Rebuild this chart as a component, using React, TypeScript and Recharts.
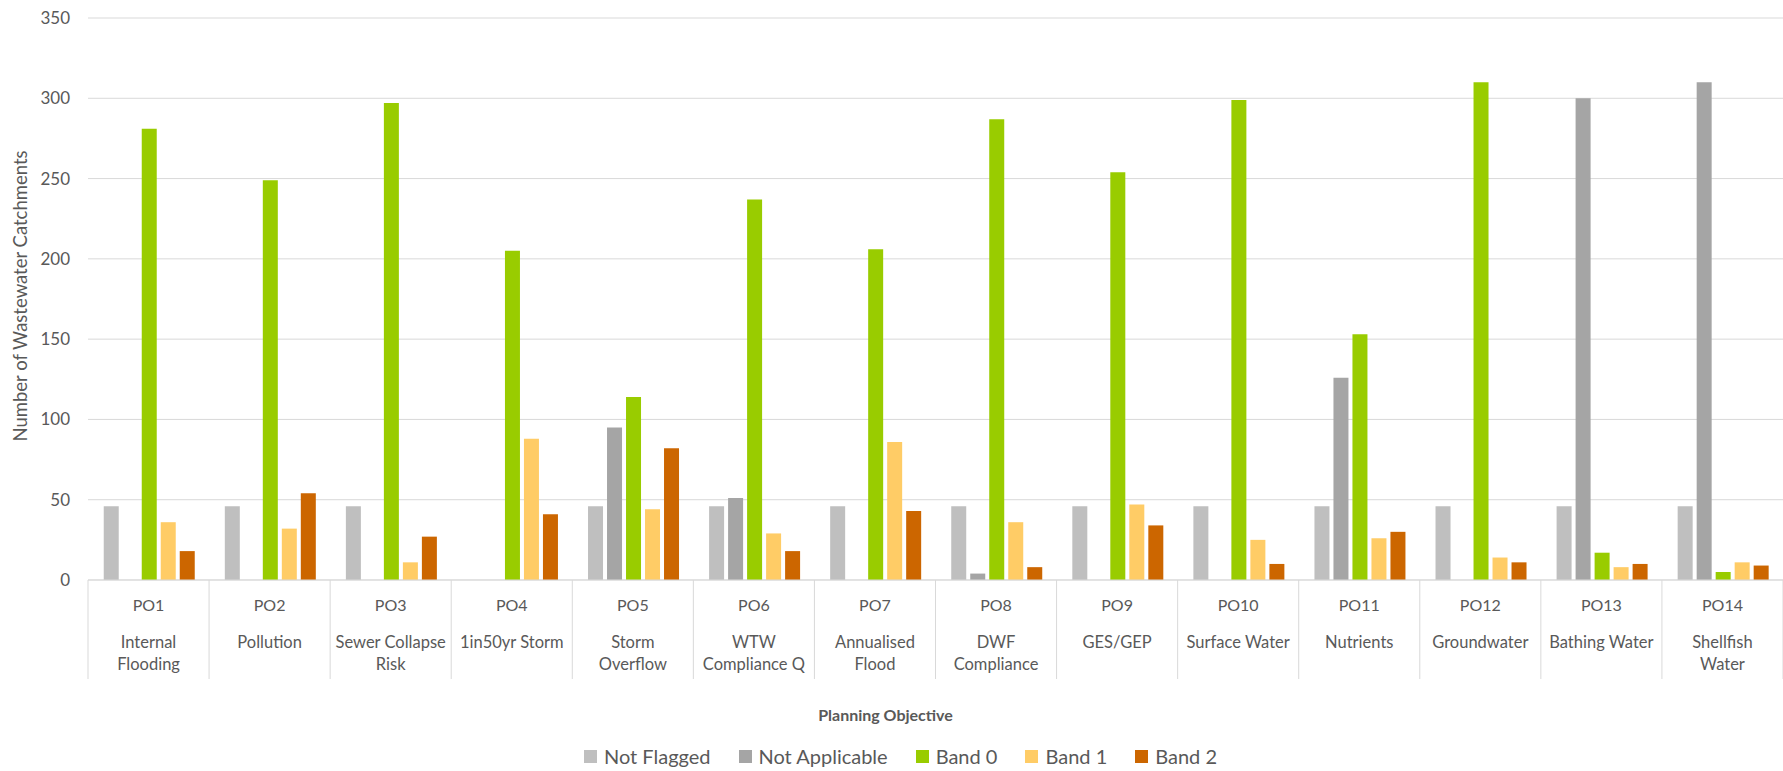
import { BarChart, Bar, XAxis, YAxis, CartesianGrid, Legend } from "recharts";

const codes = [
  "PO1", "PO2", "PO3", "PO4", "PO5", "PO6", "PO7",
  "PO8", "PO9", "PO10", "PO11", "PO12", "PO13", "PO14",
];
const names = [
  "Internal\nFlooding",
  "Pollution",
  "Sewer Collapse\nRisk",
  "1in50yr Storm",
  "Storm\nOverflow",
  "WTW\nCompliance Q",
  "Annualised\nFlood",
  "DWF\nCompliance",
  "GES/GEP",
  "Surface Water",
  "Nutrients",
  "Groundwater",
  "Bathing Water",
  "Shellfish\nWater",
];

const notFlagged = [46, 46, 46, 0, 46, 46, 46, 46, 46, 46, 46, 46, 46, 46];
const notApplicable = [0, 0, 0, 0, 95, 51, 0, 4, 0, 0, 126, 0, 300, 310];
const band0 = [281, 249, 297, 205, 114, 237, 206, 287, 254, 299, 153, 310, 17, 5];
const band1 = [36, 32, 11, 88, 44, 29, 86, 36, 47, 25, 26, 14, 8, 11];
const band2 = [18, 54, 27, 41, 82, 18, 43, 8, 34, 10, 30, 11, 10, 9];

const yTicks = [0, 50, 100, 150, 200, 250, 300, 350];

const series = [
  { key: "notFlagged", name: "Not Flagged", color: "#BFBFBF" },
  { key: "notApplicable", name: "Not Applicable", color: "#A5A5A5" },
  { key: "band0", name: "Band 0", color: "#99CC00" },
  { key: "band1", name: "Band 1", color: "#FFCC66" },
  { key: "band2", name: "Band 2", color: "#CC6600" },
];

const data = codes.map((code, i) => ({
  code,
  notFlagged: notFlagged[i],
  notApplicable: notApplicable[i],
  band0: band0[i],
  band1: band1[i],
  band2: band2[i],
}));

const W = 1783;
const H = 771;
const Y_AXIS_W = 88;
const BAND = (W - Y_AXIS_W) / codes.length;
const FONT = "Lato, 'Open Sans', sans-serif";
const TEXT = "#595959";
const GRID = "#D9D9D9";

function CategoryTick(props: any) {
  const { x, y, payload, index } = props;
  const lines = names[index].split("\n");
  const half = BAND / 2;
  return (
    <g>
      <line x1={x - half} y1={y} x2={x - half} y2={y + 99} stroke={GRID} />
      {index === codes.length - 1 && (
        <line x1={x + half} y1={y} x2={x + half} y2={y + 99} stroke={GRID} />
      )}
      <text
        x={x}
        y={y + 24}
        textAnchor="middle"
        dominantBaseline="central"
        fill={TEXT}
        fontSize={16}
        fontFamily={FONT}
      >
        {payload.value}
      </text>
      {lines.map((line: string, j: number) => (
        <text
          key={j}
          x={x}
          y={y + 62 + j * 22}
          textAnchor="middle"
          dominantBaseline="central"
          fill={TEXT}
          fontSize={16.5}
          fontFamily={FONT}
        >
          {line}
        </text>
      ))}
    </g>
  );
}

function YTitle(props: any) {
  const { viewBox } = props;
  const cx = 20;
  const cy = viewBox.y + viewBox.height / 2 - 3;
  return (
    <text
      x={cx}
      y={cy}
      transform={`rotate(-90, ${cx}, ${cy})`}
      textAnchor="middle"
      dominantBaseline="central"
      fill={TEXT}
      fontSize={18.5}
      fontFamily={FONT}
    >
      Number of Wastewater Catchments
    </text>
  );
}

function LegendContent() {
  return (
    <div
      style={{
        display: "flex",
        justifyContent: "center",
        alignItems: "center",
        height: 30,
        gap: 28,
        paddingLeft: 18,
        fontFamily: FONT,
        fontSize: 20,
        color: TEXT,
      }}
    >
      {series.map((s) => (
        <span key={s.key} style={{ display: "flex", alignItems: "center" }}>
          <span
            style={{
              display: "inline-block",
              width: 13,
              height: 13,
              background: s.color,
              marginRight: 7,
            }}
          />
          {s.name}
        </span>
      ))}
    </div>
  );
}

export default function App() {
  return (
    <div style={{ width: W, height: H, background: "#fff" }}>
      <style>{`body{margin:0}`}</style>
      <BarChart
        width={W}
        height={H}
        data={data}
        margin={{ top: 18, right: 0, bottom: 0, left: 0 }}
        barCategoryGap="13%"
        barGap={4}
      >
        <CartesianGrid vertical={false} stroke={GRID} />
        <XAxis
          dataKey="code"
          interval={0}
          height={161}
          tickSize={0}
          tickMargin={0}
          axisLine={{ stroke: GRID }}
          tickLine={false}
          tick={<CategoryTick />}
          label={{
            value: "Planning Objective",
            position: "insideBottom",
            offset: 20,
            dx: -50,
            fill: TEXT,
            fontSize: 16,
            fontWeight: "bold",
            fontFamily: FONT,
          }}
        />
        <YAxis
          width={Y_AXIS_W}
          domain={[0, 350]}
          ticks={yTicks}
          axisLine={false}
          tickLine={false}
          tickSize={0}
          tickMargin={18}
          tick={{ fill: TEXT, fontSize: 17, fontFamily: FONT }}
          label={<YTitle />}
        />
        <Legend verticalAlign="bottom" content={<LegendContent />} />
        {series.map((s) => (
          <Bar
            key={s.key}
            dataKey={s.key}
            name={s.name}
            fill={s.color}
            isAnimationActive={false}
          />
        ))}
      </BarChart>
    </div>
  );
}
